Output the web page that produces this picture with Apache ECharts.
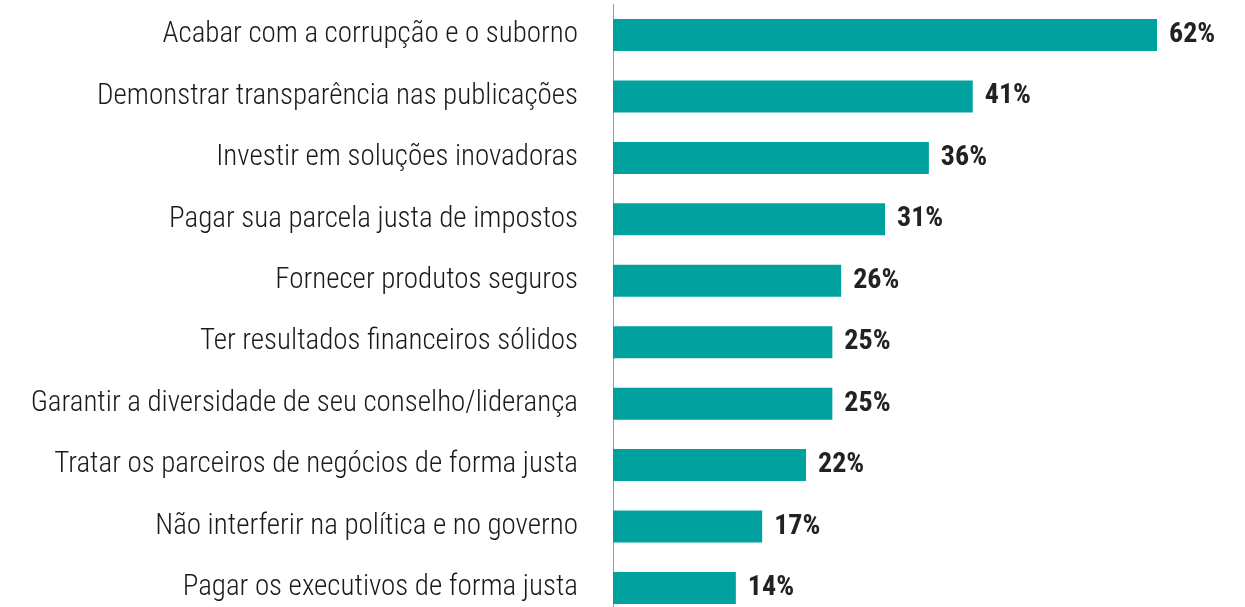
<!DOCTYPE html>
<html>
<head>
<meta charset="utf-8">
<script src="https://cdn.jsdelivr.net/npm/echarts@6/dist/echarts.min.js"></script>
<style>
  html, body { margin: 0; padding: 0; background: #fff; }
  #chart { width: 1245px; height: 607px; }
</style>
</head>
<body>
<div id="chart"></div>
<script>
  // categories, top to bottom as in the picture
  const categories = [
    'Acabar com a corrupção e o suborno',
    'Demonstrar transparência nas publicações',
    'Investir em soluções inovadoras',
    'Pagar sua parcela justa de impostos',
    'Fornecer produtos seguros',
    'Ter resultados financeiros sólidos',
    'Garantir a diversidade de seu conselho/liderança',
    'Tratar os parceiros de negócios de forma justa',
    'Não interferir na política e no governo',
    'Pagar os executivos de forma justa'
  ];
  const values = [62, 41, 36, 31, 26, 25, 25, 22, 17, 14];

  const fontFamily = '"Roboto Condensed", "Liberation Sans Narrow", "Liberation Sans", sans-serif';
  const myChart = echarts.init(document.getElementById('chart'));

  const option = {
    animation: false,
    grid: {
      left: 613, top: 4.3, width: 614.2, height: 614.4,
      containLabel: false,
      outerBoundsMode: 'none'
    },
    xAxis: {
      type: 'value',
      min: 0,
      max: 70,
      show: false
    },
    yAxis: {
      type: 'category',
      inverse: true,
      data: categories,
      axisLine: { show: true, lineStyle: { color: '#9a9a9a', width: 1 } },
      axisTick: { show: false },
      axisLabel: {
        margin: 35,
        fontFamily: fontFamily,
        fontWeight: 300,
        fontSize: 29,
        color: '#1a1a1a'
      }
    },
    series: [{
      type: 'bar',
      data: values,
      barWidth: 32,
      itemStyle: { color: '#00a19f' },
      label: {
        show: true,
        position: 'right',
        distance: 12,
        formatter: '{c}%',
        fontFamily: fontFamily,
        fontWeight: 'bold',
        fontSize: 28,
        color: '#222'
      }
    }]
  };

  myChart.setOption(option);
</script>
</body>
</html>
